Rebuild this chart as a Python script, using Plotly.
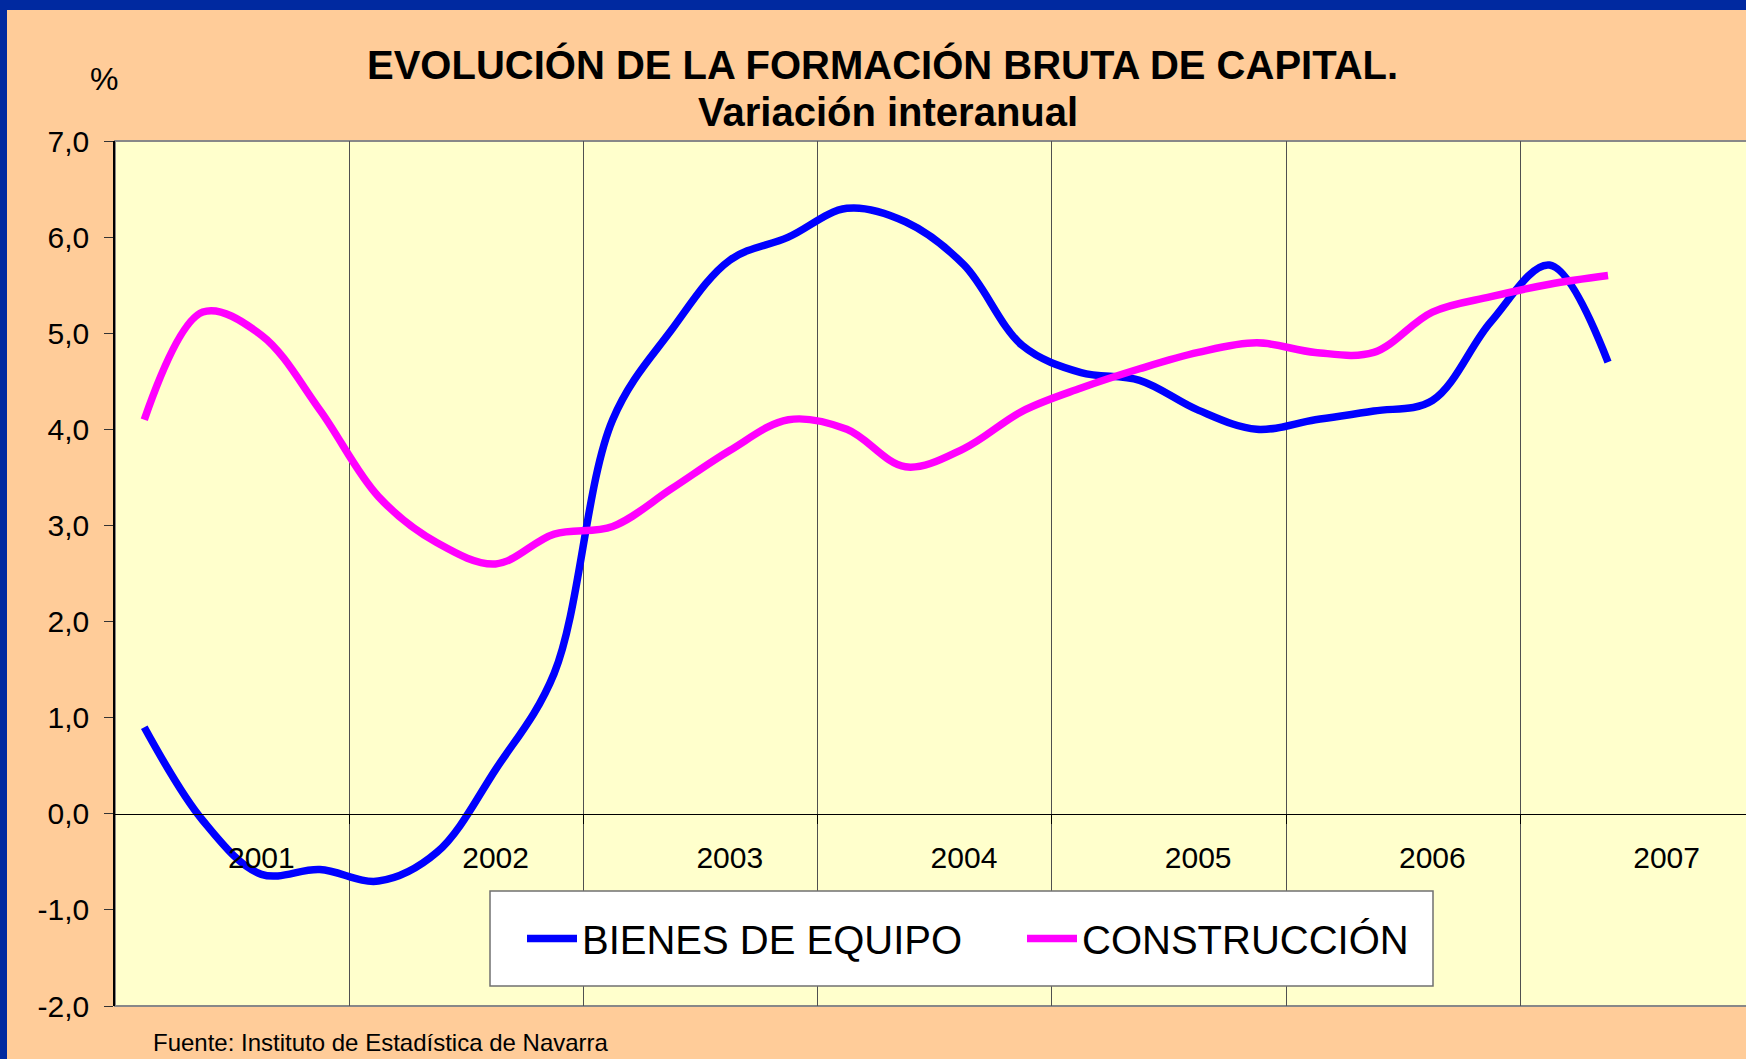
import plotly.graph_objects as go

# ---------------- data ----------------
periods = ["2000 III", "2000 IV",
           "2001 I", "2001 II", "2001 III", "2001 IV",
           "2002 I", "2002 II", "2002 III", "2002 IV",
           "2003 I", "2003 II", "2003 III", "2003 IV",
           "2004 I", "2004 II", "2004 III", "2004 IV",
           "2005 I", "2005 II", "2005 III", "2005 IV",
           "2006 I", "2006 II", "2006 III", "2006 IV"]
quarter_index = list(range(len(periods)))

bienes_de_equipo = [0.90, -0.07, -0.63, -0.58, -0.70, -0.40, 0.46, 1.46,
                    4.10, 5.03, 5.76, 6.00, 6.30, 6.16, 5.71, 4.87,
                    4.59, 4.51, 4.20, 4.00, 4.10, 4.19, 4.30, 5.12,
                    5.71, 4.70]
construccion = [4.10, 5.22, 4.98, 4.20, 3.30, 2.82, 2.60, 2.91,
                2.99, 3.38, 3.78, 4.10, 4.00, 3.61, 3.80, 4.19,
                4.43, 4.63, 4.80, 4.90, 4.80, 4.80, 5.22, 5.38,
                5.51, 5.60]

year_labels = ["2001", "2002", "2003", "2004", "2005", "2006", "2007"]
year_label_pos = [2, 6, 10, 14, 18, 22, 26]
year_boundaries = [3.5, 7.5, 11.5, 15.5, 19.5, 23.5]
y_ticks = [-2, -1, 0, 1, 2, 3, 4, 5, 6, 7]
y_tick_text = [f"{v:.1f}".replace(".", ",") for v in y_ticks]

# ---------------- layout helpers ----------------
W, H = 1746, 1059
ML, MR, MT, MB = 115, 0, 141, 53
PW = W - ML - MR
PH = H - MT - MB
CAT_PX = 58.55


def px_x(p):
    return (p - ML) / PW


def px_y(p):
    return (H - MB - p) / PH


FONT = "Arial, Liberation Sans, sans-serif"
PEACH = "#FFCC99"
PLOT_BG = "#FFFFCC"
FRAME = "#0029A0"

fig = go.Figure()
fig.add_trace(go.Scatter(
    x=quarter_index, y=bienes_de_equipo, name="BIENES DE EQUIPO",
    mode="lines", text=periods,
    line=dict(color="#0000FF", width=7.5, shape="spline", smoothing=1.0),
))
fig.add_trace(go.Scatter(
    x=quarter_index, y=construccion, name="CONSTRUCCIÓN",
    mode="lines", text=periods,
    line=dict(color="#FF00FF", width=7.5, shape="spline", smoothing=1.0),
))

fig.update_layout(
    width=W, height=H,
    margin=dict(l=ML, r=MR, t=MT, b=MB, pad=0),
    paper_bgcolor=PEACH,
    plot_bgcolor=PLOT_BG,
    font=dict(family=FONT, color="black"),
    showlegend=True,
    legend=dict(
        orientation="h",
        x=px_x(522), xanchor="left",
        y=px_y(938.5), yanchor="middle",
        bgcolor="rgba(0,0,0,0)", borderwidth=0,
        font=dict(size=40, family=FONT, color="black"),
        entrywidth=435, entrywidthmode="pixels",
        itemwidth=50,
    ),
    xaxis=dict(
        range=[-0.5, -0.5 + PW / CAT_PX],
        anchor="free", position=2 / 9,
        tickmode="array", tickvals=year_label_pos, ticktext=year_labels,
        ticks="", showgrid=False, zeroline=False,
        showline=True, linecolor="black", linewidth=1,
        tickfont=dict(size=30, family=FONT, color="black"),
        ticklabelstandoff=17,
        minor=dict(tickmode="array", tickvals=year_boundaries,
                   ticks="outside", ticklen=9, tickwidth=1, tickcolor="black",
                   showgrid=True, gridcolor="#505050", gridwidth=1),
    ),
    yaxis=dict(
        range=[-2, 7],
        tickmode="array", tickvals=y_ticks, ticktext=y_tick_text,
        ticks="outside", ticklen=9, tickwidth=1, tickcolor="#333333",
        showline=True, linecolor="black", linewidth=1.5,
        showgrid=False, zeroline=False,
        tickfont=dict(size=30, family=FONT, color="black"),
        ticklabelstandoff=9,
    ),
)

shapes = [
    # plot area border (top / bottom grey line)
    dict(type="rect", xref="paper", yref="paper", x0=0, x1=1.02, y0=0, y1=1,
         line=dict(color="#888888", width=2), fillcolor="rgba(0,0,0,0)", layer="below"),
    # legend box
    dict(type="rect", xref="paper", yref="paper",
         x0=px_x(490), x1=px_x(1433), y0=px_y(986), y1=px_y(891),
         line=dict(color="#707070", width=1.5), fillcolor="white", layer="above"),
    # dark blue frame (top and left)
    dict(type="rect", xref="paper", yref="paper",
         x0=px_x(0), x1=px_x(W), y0=px_y(10), y1=px_y(0),
         line=dict(width=0), fillcolor=FRAME, layer="above"),
    dict(type="rect", xref="paper", yref="paper",
         x0=px_x(0), x1=px_x(7), y0=px_y(H), y1=px_y(0),
         line=dict(width=0), fillcolor=FRAME, layer="above"),
]
fig.update_layout(shapes=shapes)

annotations = [
    dict(text="<b>EVOLUCIÓN DE LA FORMACIÓN BRUTA DE CAPITAL.</b>",
         x=px_x(882), y=px_y(64.6), xanchor="center", yanchor="middle",
         font=dict(size=40, family=FONT, color="black")),
    dict(text="<b>Variación interanual</b>",
         x=px_x(888), y=px_y(112.5), xanchor="center", yanchor="middle",
         font=dict(size=40, family=FONT, color="black")),
    dict(text="%", x=px_x(103.5), y=px_y(79), xanchor="center", yanchor="middle",
         font=dict(size=32, family=FONT, color="black")),
    dict(text="Fuente: Instituto de Estadística de Navarra",
         x=px_x(151), y=px_y(1042), xanchor="left", yanchor="middle",
         font=dict(size=24, family=FONT, color="black")),
]
for a in annotations:
    a.update(xref="paper", yref="paper", showarrow=False)
fig.update_layout(annotations=annotations)

fig.write_html(
    "out.html",
    config={"displayModeBar": False},
    post_script="document.body.style.margin='0';document.body.style.overflow='hidden';",
)
